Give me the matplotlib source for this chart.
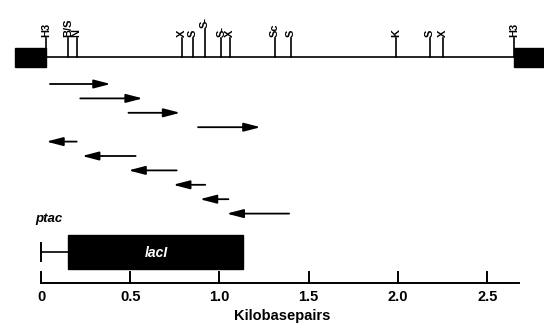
import matplotlib.pyplot as plt
from matplotlib.patches import Rectangle

plt.rcParams['font.family'] = ['Liberation Sans', 'DejaVu Sans']

# restriction sites (kb) and their labels
sites = [0.03, 0.15, 0.20, 0.79, 0.85, 0.92, 1.01, 1.06, 1.31, 1.40, 1.99, 2.18, 2.25, 2.65]
site_labels = ['H3', 'B/S', 'N', 'X', 'S', 'S-', 'S-', 'X', 'Sc', 'S', 'K', 'S', 'X', 'H3']
tall_site = 5  # the one with the longer tick

# sequencing runs: start -> end (kb), direction given by order
runs_start = [0.05, 0.22, 0.49, 0.88, 0.20, 0.53, 0.76, 0.92, 1.05, 1.39]
runs_end = [0.39, 0.57, 0.78, 1.23, 0.03, 0.23, 0.49, 0.74, 0.89, 1.04]

# expression construct
ptac_start = 0.0
gene_start = 0.15
gene_end = 1.13
gene_name = 'lacI'

# scale bar
scale_ticks = [0, 0.5, 1.0, 1.5, 2.0, 2.5]
scale_labels = ['0', '0.5', '1.0', '1.5', '2.0', '2.5']
scale_end = 2.68

fig = plt.figure(figsize=(5.44, 3.26), dpi=100)
ax = fig.add_axes([0, 0, 1, 1])
ax.set_xlim(-0.2297, 2.818)
ax.set_ylim(326, 0)
ax.axis('off')

# --- restriction map ---
map_y = 57
ax.plot([0.03, 2.65], [map_y, map_y], color='black', lw=1.2)
ax.add_patch(Rectangle((-0.146, 48), 0.176, 19, color='black'))
ax.add_patch(Rectangle((2.65, 48), 0.2, 19, color='black'))
for i, (x, lbl) in enumerate(zip(sites, site_labels)):
    top = 29 if i == tall_site else 38
    ax.plot([x, x], [map_y, top], color='black', lw=1.2)
    ax.text(x, top - 1, lbl, rotation=90, ha='center', va='bottom',
            fontsize=8, fontweight='bold')

# --- arrows ---
for i, (s, e) in enumerate(zip(runs_start, runs_end)):
    y = 84 + 14.4 * i
    ax.annotate('', xy=(e, y), xytext=(s, y),
                arrowprops=dict(arrowstyle='-|>,head_length=1.0,head_width=0.26',
                                mutation_scale=10, lw=1.3, color='black',
                                shrinkA=0, shrinkB=0))

# --- ptac construct ---
ax.text(-0.03, 219, 'ptac', fontsize=9.5, style='italic', fontweight='bold',
        va='center', ha='left')
ax.plot([ptac_start, gene_start], [252, 252], color='black', lw=1.2)
ax.plot([ptac_start, ptac_start], [243, 261], color='black', lw=1.4)
ax.add_patch(Rectangle((gene_start, 235), gene_end - gene_start, 34, color='black'))
ax.text(0.645, 253, gene_name, color='white', fontsize=10, style='italic',
        fontweight='bold', ha='center', va='center')

# --- scale bar ---
axis_y = 283
ax.plot([0, scale_end], [axis_y, axis_y], color='black', lw=1.4)
for t, lbl in zip(scale_ticks, scale_labels):
    ax.plot([t, t], [axis_y, 272], color='black', lw=1.4)
    ax.text(t, 297, lbl, ha='center', va='center', fontsize=10.5, fontweight='bold')
ax.text(1.353, 316, 'Kilobasepairs', ha='center', va='center', fontsize=10.5,
        fontweight='bold')

plt.savefig('out.png', dpi=100)
